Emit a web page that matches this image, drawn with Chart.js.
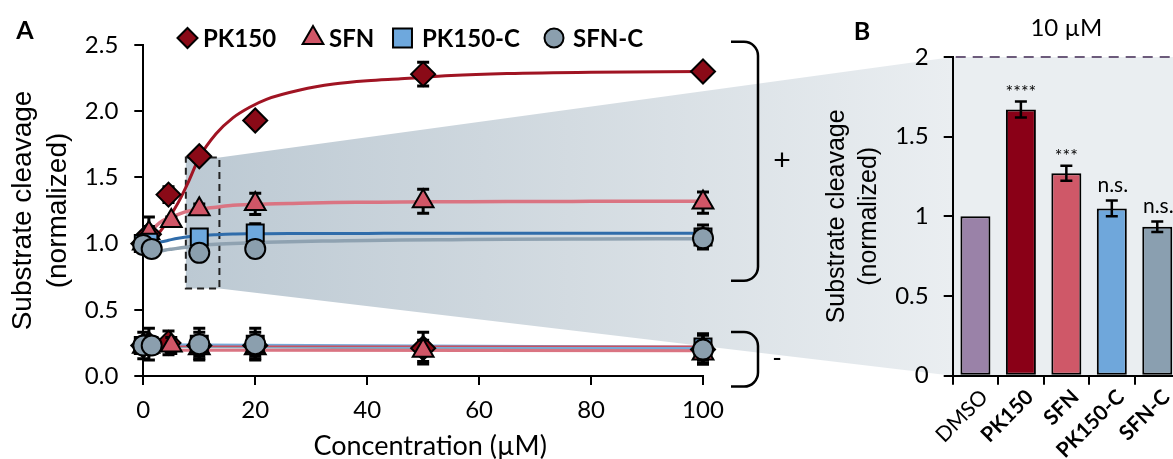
<!DOCTYPE html>
<html>
<head>
<meta charset="utf-8">
<script src="https://cdn.jsdelivr.net/npm/chart.js@4.4.1/dist/chart.umd.min.js"></script>
<style>
  html, body { margin: 0; padding: 0; background: #fff; overflow: hidden; }
  #wrap { position: relative; width: 1173px; height: 459px; overflow: hidden; }
  canvas { position: absolute; left: 0; top: 0; }
  #doseChart { z-index: 1; }
  #barChart { z-index: 2; }
</style>
</head>
<body>
<div id="wrap">
  <canvas id="doseChart" width="1173" height="459"></canvas>
  <canvas id="barChart" width="1190" height="459"></canvas>
</div>
<script>
// ---------- Panel A: dose response (µM) ----------
const concPK150  = [0, 1, 4.5, 10, 20, 50, 100];
const concSFN    = [0, 1, 5, 10, 20, 50, 100];
const concPK150C = [0, 1, 10, 20, 100];
const concSFNC   = [0, 1.5, 10, 20, 100];

// with protease (+)
const pk150Plus     = [1.00, 1.07, 1.37, 1.66, 1.93, 2.28, 2.30];
const pk150PlusErr  = [0.03, 0.13, 0.06, 0.03, 0.03, 0.09, 0.03];
const sfnPlus       = [1.00, 1.08, 1.17, 1.26, 1.30, 1.32, 1.31];
const sfnPlusErr    = [0.03, 0.05, 0.03, 0.04, 0.08, 0.09, 0.08];
const pk150cPlus    = [1.00, 1.01, 1.05, 1.08, 1.05];
const pk150cPlusErr = [0.04, 0.04, 0.05, 0.07, 0.09];
const sfncPlus      = [0.99, 0.96, 0.93, 0.96, 1.04];
const sfncPlusErr   = [0.04, 0.04, 0.04, 0.06, 0.07];

// without protease (-)
const pk150Minus     = [0.23, 0.24, 0.25, 0.23, 0.23, 0.21, 0.20];
const pk150MinusErr  = [0.10, 0.12, 0.09, 0.10, 0.10, 0.12, 0.11];
const sfnMinus       = [0.22, 0.22, 0.23, 0.21, 0.21, 0.19, 0.17];
const sfnMinusErr    = [0.05, 0.05, 0.06, 0.06, 0.06, 0.08, 0.07];
const pk150cMinus    = [0.23, 0.23, 0.24, 0.24, 0.22];
const pk150cMinusErr = [0.06, 0.06, 0.12, 0.12, 0.10];
const sfncMinus      = [0.23, 0.23, 0.24, 0.24, 0.20];
const sfncMinusErr   = [0.05, 0.05, 0.06, 0.06, 0.11];

// fitted curves
const fitConc     = [0, 1, 2, 3, 4, 5, 6.5, 8, 10, 13, 16, 19, 22, 28, 34, 40, 46, 55, 65, 80, 100];
const pk150Fit    = [1.00, 1.01, 1.04, 1.09, 1.15, 1.22, 1.33, 1.46, 1.65, 1.83, 1.95, 2.03, 2.09, 2.16, 2.205, 2.23, 2.245, 2.27, 2.285, 2.295, 2.30];
const sfnFit      = [1.00, 1.06, 1.12, 1.16, 1.185, 1.20, 1.225, 1.245, 1.26, 1.275, 1.29, 1.295, 1.30, 1.305, 1.31, 1.312, 1.314, 1.316, 1.318, 1.319, 1.32];
const pk150cFit   = [1.00, 1.00, 1.005, 1.012, 1.02, 1.03, 1.042, 1.052, 1.06, 1.067, 1.072, 1.074, 1.075, 1.076, 1.077, 1.077, 1.078, 1.078, 1.078, 1.078, 1.078];
const sfncFit     = [0.91, 0.925, 0.935, 0.944, 0.952, 0.958, 0.966, 0.975, 0.985, 0.995, 1.00, 1.006, 1.01, 1.016, 1.02, 1.024, 1.027, 1.03, 1.033, 1.035, 1.037];
const baseConc    = [0, 100];
const pk150BaseFit  = [0.225, 0.225];
const sfnBaseFit    = [0.195, 0.19];
const pk150cBaseFit = [0.235, 0.215];
const sfncBaseFit   = [0.225, 0.20];

const yTicksA = [0, 0.5, 1.0, 1.5, 2.0, 2.5];
const xTicksA = [0, 20, 40, 60, 80, 100];

// ---------- Panel B: 10 µM ----------
const barLabels = ['DMSO', 'PK150', 'SFN', 'PK150-C', 'SFN-C'];
const barValues = [1.00, 1.67, 1.27, 1.05, 0.935];
const barErrors = [0, 0.05, 0.047, 0.05, 0.033];
const barMarks  = ['', '****', '***', 'n.s.', 'n.s.'];
const yTicksB   = [0, 0.5, 1, 1.5, 2];

// colours
const C = {
  pk150: '#8a0a17', pk150Line: '#a01423',
  sfn: '#d05667', sfnLine: '#da7482',
  pk150c: '#6ea8dd', pk150cLine: '#2f6caa',
  sfnc: '#8b9fae', sfncLine: '#8fa2b1',
  dmso: '#9a82a8'
};
const barColors = [C.dmso, '#8a0017', '#cf5868', '#6fa7db', '#8a9fb0'];

const pts = (xs, ys) => xs.map((x, i) => ({ x, y: ys[i] }));
const TICK = "Lato, 'Open Sans', sans-serif";
const ARIAL = "'Liberation Sans', Arial, sans-serif";

// ---------- Panel B chart ----------
const barDecor = {
  id: 'barDecor',
  beforeDraw(chart) {
    const { ctx, chartArea: a } = chart;
    ctx.save();
    ctx.fillStyle = '#eaeef1';
    ctx.fillRect(a.left, a.top, a.right - a.left, a.bottom - a.top);
    ctx.restore();
  },
  afterDatasetsDraw(chart) {
    const { ctx, chartArea: a, scales: { y } } = chart;
    const meta = chart.getDatasetMeta(0);
    ctx.save();
    // error bars
    ctx.strokeStyle = '#000';
    ctx.lineWidth = 2.5;
    meta.data.forEach((el, i) => {
      const e = barErrors[i];
      if (!e) return;
      const t = y.getPixelForValue(barValues[i] + e);
      const b = y.getPixelForValue(barValues[i] - e);
      ctx.beginPath();
      ctx.moveTo(el.x, t); ctx.lineTo(el.x, b);
      ctx.moveTo(el.x - 6, t); ctx.lineTo(el.x + 6, t);
      ctx.moveTo(el.x - 6, b); ctx.lineTo(el.x + 6, b);
      ctx.stroke();
    });
    // significance marks
    ctx.fillStyle = '#000';
    ctx.textAlign = 'center';
    ctx.textBaseline = 'alphabetic';
    meta.data.forEach((el, i) => {
      if (!barMarks[i]) return;
      const star = barMarks[i].startsWith('*');
      ctx.font = star ? `18px ${TICK}` : `21px ${TICK}`;
      const t = y.getPixelForValue(barValues[i] + barErrors[i]);
      ctx.fillText(barMarks[i], el.x + (star ? 0 : 1), t - (star ? 4 : 8));
    });
    // upper reference line
    const y2 = y.getPixelForValue(2);
    ctx.strokeStyle = '#6c5b7b';
    ctx.lineWidth = 2;
    ctx.setLineDash([10, 7]);
    ctx.beginPath();
    ctx.moveTo(a.left + 3, y2); ctx.lineTo(a.right + 20, y2);
    ctx.stroke();
    ctx.setLineDash([]);
    // headings
    ctx.font = `24px ${TICK}`;
    ctx.textAlign = 'center';
    ctx.textBaseline = 'middle';
    ctx.fillText('10 µM', (a.left + a.right) / 2, 28);
    ctx.font = `bold 25px ${TICK}`;
    ctx.fillText('B', 862, 32);
    ctx.restore();
  }
};

const barChart = new Chart(document.getElementById('barChart'), {
  type: 'bar',
  data: {
    labels: barLabels,
    datasets: [{
      data: barValues,
      backgroundColor: barColors,
      borderColor: '#000',
      borderWidth: 2,
      borderSkipped: false,
      barPercentage: 0.66,
      categoryPercentage: 1
    }]
  },
  options: {
    responsive: false,
    animation: false,
    devicePixelRatio: 1,
    layout: { padding: { left: 821, top: 57, right: 10, bottom: 0 } },
    plugins: { legend: { display: false }, tooltip: { enabled: false } },
    scales: {
      x: {
        grid: { offset: true, drawOnChartArea: false, tickLength: 9, color: '#000', lineWidth: 2 },
        border: { color: '#000', width: 2 },
        ticks: {
          minRotation: 45, maxRotation: 45, color: '#000', padding: 0, labelOffset: 9,
          font: (c) => ({ family: TICK, size: 21, weight: c.index === 0 ? 'normal' : 'bold' })
        },
        afterFit: (s) => { s.height = 83.3; }
      },
      y: {
        min: 0, max: 2,
        afterBuildTicks: (s) => { s.ticks = yTicksB.map(v => ({ value: v })); },
        ticks: { color: '#000', padding: 15, font: { family: TICK, size: 24 }, callback: (v) => String(v) },
        grid: { drawOnChartArea: false, tickLength: 9, color: '#000', lineWidth: 2 },
        border: { color: '#000', width: 2 },
        title: {
          display: true, text: ['Substrate cleavage', '(normalized)'], color: '#000', padding: 0,
          font: { family: ARIAL, size: 25, lineHeight: 1.28 }
        },
        afterFit: (s) => { s.width = 131.7; }
      }
    }
  },
  plugins: [barDecor]
});

// ---------- Panel A chart ----------
const legendItems = [
  { text: 'PK150',   style: 'rectRot',  r: 10,   fill: C.pk150,  mx: 187.5, tx: 203 },
  { text: 'SFN',     style: 'triangle', r: 12,   fill: C.sfn,    mx: 313,   tx: 329 },
  { text: 'PK150-C', style: 'rect',     r: 13.4, fill: C.pk150c, mx: 402.5, tx: 422 },
  { text: 'SFN-C',   style: 'circle',   r: 9.5,  fill: C.sfnc,   mx: 554,   tx: 573 }
];

const doseDecor = {
  id: 'doseDecor',
  beforeDatasetsDraw(chart) {
    const { ctx, scales: { x, y } } = chart;
    const bArea = barChart.chartArea, bY = barChart.scales.y;
    const boxL = x.getPixelForValue(7.6), boxR = x.getPixelForValue(13.6);
    const boxT = y.getPixelForValue(1.65), boxB = y.getPixelForValue(0.66);
    const bT = bY.getPixelForValue(2), bB = bY.getPixelForValue(0);
    ctx.save();
    const g = ctx.createLinearGradient(boxL, 0, bArea.left, 0);
    g.addColorStop(0, '#bcc9d3');
    g.addColorStop(0.5, '#d3dbe1');
    g.addColorStop(1, '#eaeef1');
    ctx.fillStyle = g;
    ctx.beginPath();
    ctx.moveTo(boxL, boxT); ctx.lineTo(boxR, boxT);
    ctx.lineTo(bArea.left, bT); ctx.lineTo(bArea.left, bB);
    ctx.lineTo(boxR, boxB); ctx.lineTo(boxL, boxB);
    ctx.closePath();
    ctx.fill();
    ctx.strokeStyle = '#222';
    ctx.lineWidth = 2;
    ctx.setLineDash([7, 5]);
    ctx.strokeRect(boxL, boxT, boxR - boxL, boxB - boxT);
    ctx.restore();
  },
  beforeDatasetDraw(chart, args) {
    const ds = chart.data.datasets[args.index];
    if (!ds.errors) return;
    const { ctx, scales: { y } } = chart;
    ctx.save();
    ctx.strokeStyle = '#000';
    ctx.lineWidth = 3;
    args.meta.data.forEach((el, i) => {
      const v = ds.data[i].y, e = ds.errors[i];
      const t = y.getPixelForValue(v + e), b = y.getPixelForValue(v - e);
      ctx.beginPath();
      ctx.moveTo(el.x, t); ctx.lineTo(el.x, b);
      ctx.moveTo(el.x - 6, t); ctx.lineTo(el.x + 6, t);
      ctx.moveTo(el.x - 6, b); ctx.lineTo(el.x + 6, b);
      ctx.stroke();
    });
    ctx.restore();
  },
  afterDraw(chart) {
    const { ctx, chartArea: a, scales: { y } } = chart;
    ctx.save();
    // legend
    ctx.textBaseline = 'middle';
    ctx.textAlign = 'left';
    legendItems.forEach(it => {
      ctx.fillStyle = it.fill;
      ctx.strokeStyle = '#000';
      ctx.lineWidth = 2;
      Chart.helpers.drawPoint(ctx, { pointStyle: it.style, radius: it.r, borderWidth: 2, rotation: 0 }, it.mx, 38);
      ctx.fillStyle = '#000';
      ctx.font = `bold 24px ${TICK}`;
      ctx.fillText(it.text, it.tx, 39);
    });
    // brackets for + / - groups
    ctx.strokeStyle = '#000';
    ctx.lineWidth = 2.5;
    const x0 = a.right + 28, x1 = a.right + 55;
    const up = [y.getPixelForValue(2.525), y.getPixelForValue(0.72)];
    const lo = [y.getPixelForValue(0.333), y.getPixelForValue(-0.08)];
    [up, lo].forEach(([t, b]) => {
      ctx.beginPath();
      ctx.moveTo(x0, t);
      ctx.arcTo(x1, t, x1, b, 14);
      ctx.arcTo(x1, b, x0, b, 14);
      ctx.lineTo(x0, b);
      ctx.stroke();
    });
    ctx.fillStyle = '#000';
    ctx.textAlign = 'center';
    ctx.font = `30px ${ARIAL}`;
    ctx.fillText('+', a.right + 79, (up[0] + up[1]) / 2 + 1);
    ctx.font = `26px ${ARIAL}`;
    ctx.fillText('-', a.right + 74, (lo[0] + lo[1]) / 2);
    // x axis title
    ctx.font = `27px ${TICK}`;
    ctx.fillText('Concentration (µM)', (a.left + a.right) / 2 + 7, 446);
    // panel letter
    ctx.font = `bold 25px ${TICK}`;
    ctx.fillText('A', 25, 31);
    ctx.restore();
  }
};

function markerSet(label, xs, ys, errs, style, radius, fill, order) {
  return {
    label, data: pts(xs, ys), errors: errs, showLine: false,
    pointStyle: style, pointRadius: radius, pointBackgroundColor: fill,
    pointBorderColor: '#000', pointBorderWidth: 2, order, clip: false
  };
}
function fitSet(xs, ys, color, width, order) {
  return {
    data: pts(xs, ys), borderColor: color, borderWidth: width, pointRadius: 0,
    cubicInterpolationMode: 'monotone', fill: false, order, clip: false
  };
}

const doseChart = new Chart(document.getElementById('doseChart'), {
  type: 'line',
  data: {
    datasets: [
      markerSet('SFN-C', concSFNC, sfncPlus, sfncPlusErr, 'circle', 10, C.sfnc, 1),
      markerSet('SFN-C', concSFNC, sfncMinus, sfncMinusErr, 'circle', 10, C.sfnc, 1),
      markerSet('PK150-C', concPK150C, pk150cPlus, pk150cPlusErr, 'rect', 12, C.pk150c, 2),
      markerSet('PK150-C', concPK150C, pk150cMinus, pk150cMinusErr, 'rect', 12, C.pk150c, 2),
      markerSet('SFN', concSFN, sfnPlus, sfnPlusErr, 'triangle', 12, C.sfn, 3),
      markerSet('SFN', concSFN, sfnMinus, sfnMinusErr, 'triangle', 12, C.sfn, 3),
      markerSet('PK150', concPK150, pk150Plus, pk150PlusErr, 'rectRot', 12, C.pk150, 4),
      markerSet('PK150', concPK150, pk150Minus, pk150MinusErr, 'rectRot', 12, C.pk150, 4),
      fitSet(fitConc, pk150Fit, C.pk150Line, 3, 5),
      fitSet(fitConc, sfnFit, C.sfnLine, 3.5, 6),
      fitSet(fitConc, pk150cFit, C.pk150cLine, 3, 7),
      fitSet(fitConc, sfncFit, C.sfncLine, 3.5, 8),
      fitSet(baseConc, pk150BaseFit, '#c85060', 1.5, 9),
      fitSet(baseConc, sfnBaseFit, C.sfnLine, 3, 9),
      fitSet(baseConc, pk150cBaseFit, '#77a9d8', 3.5, 9),
      fitSet(baseConc, sfncBaseFit, C.sfncLine, 3.5, 9)
    ]
  },
  options: {
    responsive: false,
    animation: false,
    devicePixelRatio: 1,
    layout: { padding: { left: 6, top: 45, right: 470, bottom: 0 } },
    plugins: { legend: { display: false }, tooltip: { enabled: false } },
    scales: {
      x: {
        type: 'linear', min: 0, max: 100,
        afterBuildTicks: (s) => { s.ticks = xTicksA.map(v => ({ value: v })); },
        ticks: { color: '#000', padding: 11, font: { family: TICK, size: 24 } },
        grid: { drawOnChartArea: false, tickLength: 9, color: '#000', lineWidth: 2 },
        border: { color: '#000', width: 2 },
        afterFit: (s) => { s.height = 83; }
      },
      y: {
        min: 0, max: 2.5,
        afterBuildTicks: (s) => { s.ticks = yTicksA.map(v => ({ value: v })); },
        ticks: { color: '#000', padding: 16, font: { family: TICK, size: 24 }, callback: (v) => v.toFixed(1) },
        grid: { drawOnChartArea: false, tickLength: 9, color: '#000', lineWidth: 2 },
        border: { color: '#000', width: 2 },
        title: { display: true, text: ['Substrate cleavage', '(normalized)'], color: '#000', padding: 0,
                 font: { family: ARIAL, size: 28, lineHeight: 1.25 } },
        afterFit: (s) => { s.width = 137.3; }
      }
    }
  },
  plugins: [doseDecor]
});
</script>
</body>
</html>
